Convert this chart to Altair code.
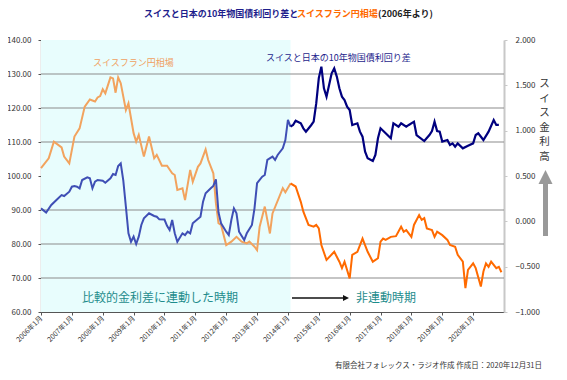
import altair as alt
import pandas as pd

# ---------------- data ----------------
fx_months = ["2006-01","2006-04","2006-06","2006-09","2006-10","2006-12","2007-02","2007-04","2007-06","2007-08",
             "2007-10","2007-11","2007-12","2008-01","2008-02","2008-04","2008-05","2008-06","2008-07","2008-08",
             "2008-10","2008-11","2009-01","2009-02","2009-03","2009-05","2009-07","2009-09","2009-10","2009-12",
             "2010-02","2010-04","2010-05","2010-06","2010-08","2010-09","2010-11","2010-12","2011-02","2011-03",
             "2011-05","2011-06","2011-08","2011-09","2011-10","2011-11","2012-01","2012-03","2012-05","2012-07",
             "2012-09","2012-10","2012-12","2013-01","2013-02","2013-04","2013-06","2013-07","2013-11","2013-12",
             "2014-02","2014-04","2014-06","2014-07","2014-09","2014-11","2014-12","2015-01","2015-02","2015-04",
             "2015-07","2015-09","2015-10","2015-11","2016-01","2016-02","2016-04","2016-06","2016-08","2016-10",
             "2016-12","2017-01","2017-02","2017-03","2017-05","2017-07","2017-09","2017-10","2017-11","2018-01",
             "2018-02","2018-04","2018-05","2018-06","2018-07","2018-09","2018-10","2018-11","2019-01","2019-03",
             "2019-04","2019-06","2019-07","2019-09","2019-10","2019-11","2020-01","2020-02","2020-04","2020-05",
             "2020-06","2020-07","2020-08","2020-10","2020-11","2020-12"]
fx_values = [102.3,105.2,110.1,108.4,105.7,103.7,111.6,114.0,120.4,122.5,
             121.9,123.1,123.5,125.5,124.3,129.0,128.7,124.5,129.0,127.3,
             119.4,121.4,112.6,110.1,112.1,105.7,111.6,105.2,106.2,103.0,
             103.0,100.8,100.3,95.9,96.4,92.9,101.8,98.3,102.7,103.7,
             107.8,104.7,100.8,92.0,86.1,85.6,79.7,80.7,82.1,80.7,
             80.2,80.7,79.2,78.2,85.1,91.0,83.1,89.0,96.4,95.2,
             97.8,96.9,92.4,89.5,85.6,85.1,85.6,84.6,79.7,75.3,
             77.7,74.8,72.9,74.8,69.9,76.8,77.7,81.6,77.7,74.8,
             75.8,80.7,81.6,81.2,82.1,82.3,85.1,83.6,84.1,82.1,
             85.6,88.5,87.1,87.6,84.6,84.1,82.1,83.6,82.6,81.2,
             79.7,79.2,76.8,74.8,67.0,72.4,74.3,72.9,67.5,71.9,
             74.3,73.3,74.8,72.9,73.3,71.7]

spread_months = ["2006-01","2006-03","2006-05","2006-07","2006-09","2006-10","2006-12","2007-01","2007-02","2007-03",
                 "2007-04","2007-05","2007-07","2007-08","2007-09","2007-10","2007-11","2008-01","2008-02","2008-04",
                 "2008-05","2008-06","2008-07","2008-08","2008-09","2008-10","2008-11","2008-12","2009-01","2009-02",
                 "2009-03","2009-04","2009-05","2009-07","2009-09","2009-10","2009-11","2010-01","2010-02","2010-03",
                 "2010-04","2010-05","2010-06","2010-08","2010-09","2010-10","2010-11","2010-12","2011-03","2011-04",
                 "2011-05","2011-07","2011-08","2011-09","2011-10","2011-11","2012-01","2012-02","2012-03","2012-04",
                 "2012-05","2012-06","2012-08","2012-09","2012-11","2012-12","2013-01","2013-03","2013-04","2013-05",
                 "2013-07","2013-08","2013-09","2013-11","2013-12","2014-01","2014-02","2014-03","2014-04","2014-06",
                 "2014-07","2014-08","2014-10","2014-11","2014-12","2015-01","2015-02","2015-03","2015-04","2015-05",
                 "2015-06","2015-07","2015-08","2015-09","2015-10","2015-11","2015-12","2016-01","2016-02","2016-04",
                 "2016-05","2016-06","2016-07","2016-08","2016-10","2016-11","2016-12","2017-01","2017-03","2017-05",
                 "2017-06","2017-08","2017-09","2017-11","2017-12","2018-02","2018-03","2018-06","2018-08","2018-09",
                 "2018-10","2018-11","2018-12","2019-01","2019-03","2019-04","2019-05","2019-06","2019-07","2019-09",
                 "2019-11","2020-01","2020-02","2020-03","2020-05","2020-07","2020-09","2020-10","2020-11"]
spread_values = [0.143,0.096,0.180,0.235,0.290,0.279,0.327,0.382,0.390,0.382,
                 0.364,0.456,0.485,0.474,0.364,0.437,0.456,0.448,0.426,0.474,
                 0.522,0.511,0.610,0.640,0.450,0.162,-0.132,-0.225,-0.169,-0.250,
                 -0.169,-0.040,0.033,0.089,0.059,0.051,0.022,0.020,-0.050,-0.096,
                 0.015,-0.132,-0.225,-0.132,-0.151,-0.114,-0.132,-0.022,0.051,0.217,
                 0.309,0.364,0.390,0.463,0.100,-0.022,-0.114,-0.151,0.015,0.143,
                 0.089,-0.114,-0.206,-0.132,-0.040,0.143,0.420,0.493,0.511,0.677,
                 0.713,0.677,0.732,0.805,0.897,1.118,1.044,1.063,1.110,1.081,
                 1.026,0.989,1.060,1.100,1.300,1.580,1.706,1.467,1.375,1.504,
                 1.632,1.687,1.596,1.467,1.375,1.338,1.265,1.228,1.063,1.081,
                 0.989,0.934,0.768,0.695,0.665,0.732,0.916,1.026,0.971,0.916,
                 1.081,1.044,1.081,1.044,1.063,1.099,0.952,0.886,0.952,0.996,
                 1.099,0.996,0.989,0.879,0.897,0.842,0.860,0.823,0.860,0.805,
                 0.834,0.860,0.952,0.971,0.897,0.989,1.118,1.063,1.063]

year_ticks = list(range(2006, 2021))
left_ticks = [60, 70, 80, 90, 100, 110, 120, 130, 140]
right_ticks = [-1.0, -0.5, 0.0, 0.5, 1.0, 1.5, 2.0]
grid_values = [70, 80, 90, 110, 120, 130]
linked_start = "2006-01"
split_month = "2014-02"


def to_t(m):
    y, mo = m.split("-")
    return int(y) + (int(mo) - 1) / 12.0


split_t = to_t(split_month)
fx = pd.DataFrame({"month": fx_months, "value": fx_values})
fx["t"] = fx["month"].map(to_t)
sp = pd.DataFrame({"month": spread_months, "value": spread_values})
sp["t"] = sp["month"].map(to_t)
fx1 = fx[fx["t"] <= split_t]
fx2 = fx[fx["t"] >= split_t]
sp1 = sp[sp["t"] <= split_t]
sp2 = sp[sp["t"] >= split_t]
band_df = pd.DataFrame({"start": [to_t(linked_start)], "end": [split_t]})
grid_df = pd.DataFrame({"v": grid_values})
dummy = pd.DataFrame({"d": [0]})

FONT = "Noto Sans CJK JP"
W, H = 463, 272

xs = alt.Scale(domain=[2006, 2021], nice=False, zero=False)
xaxis = alt.Axis(values=year_ticks, labelExpr="datum.value + '年1月'", labelAngle=-45,
                 labelAlign="right", labelBaseline="middle", labelFontSize=7, labelFont=FONT,
                 labelColor="#333333", tickSize=3, tickColor="#555555", domainColor="#555555",
                 domainWidth=1.2, labelPadding=2, title=None, grid=False)
ly = alt.Scale(domain=[60, 140], nice=False, zero=False)
laxis = alt.Axis(values=left_ticks, format=".2f", labelFontSize=8, labelFont=FONT,
                 labelColor="#333333", tickSize=3, tickColor="#555555", domainColor="#555555",
                 domainWidth=1.2, labelPadding=7, title=None, grid=False, orient="left")
ry = alt.Scale(domain=[-1, 2], nice=False, zero=False)
raxis = alt.Axis(values=right_ticks, format=".3f", labelFontSize=8, labelFont=FONT,
                 labelColor="#333333", tickSize=3, tickColor="#c8c8c8", domainColor="#c8c8c8",
                 domainWidth=2, labelPadding=8, title=None, grid=False, orient="right")

band = alt.Chart(band_df).mark_rect(color="#E8FDFD").encode(
    x=alt.X("start:Q", scale=xs, axis=xaxis), x2="end:Q",
    y=alt.value(0), y2=alt.value(H))

grid = alt.Chart(grid_df).mark_rule(color="#8c8c8c", strokeWidth=1.2).encode(
    y=alt.Y("v:Q", scale=ly, axis=laxis))

fx_a = alt.Chart(fx1).mark_line(color="#F2A35E", strokeWidth=2).encode(
    x=alt.X("t:Q", scale=xs, axis=xaxis), y=alt.Y("value:Q", scale=ly, axis=laxis))
fx_b = alt.Chart(fx2).mark_line(color="#FF6A00", strokeWidth=2).encode(
    x=alt.X("t:Q", scale=xs, axis=xaxis), y=alt.Y("value:Q", scale=ly, axis=laxis))

sp_a = alt.Chart(sp1).mark_line(color="#3F4FB5", strokeWidth=2).encode(
    x=alt.X("t:Q", scale=xs, axis=xaxis), y=alt.Y("value:Q", scale=ry, axis=raxis))
sp_b = alt.Chart(sp2).mark_line(color="#00007F", strokeWidth=2.2).encode(
    x=alt.X("t:Q", scale=xs, axis=xaxis), y=alt.Y("value:Q", scale=ry, axis=raxis))


def label(text, x, y, size, color, weight="normal", align="left", baseline="middle"):
    return alt.Chart(dummy).mark_text(text=text, font=FONT, fontSize=size, color=color,
                                      fontWeight=weight, align=align, baseline=baseline).encode(
        x=alt.value(x), y=alt.value(y))


t1 = label("スイスと日本の10年物国債利回り差と", 103, -26, 9, "#1E1E8C", "bold")
t2 = label("スイスフラン円相場", 256, -26, 9, "#FF6A00", "bold")
t3 = label("(2006年より)", 337, -26, 9, "#222222", "bold")
l1 = label("スイスフラン円相場", 52, 23, 9, "#F0A060")
l2 = label("スイスと日本の10年物国債利回り差", 225, 18, 9, "#1E1E8C")
l3 = label("比較的金利差に連動した時期", 41, 258, 12, "#1E8C8C")
l4 = label("非連動時期", 315, 258, 12, "#1E8C8C")
foot = label("有限会社フォレックス・ラジオ作成  作成日：2020年12月31日", 501, 326, 7.5, "#333333", align="right")

vert_chars = ["ス", "イ", "ス", "金", "利", "高"]
vert = [label(c, 503.5, 39 + i * 14.6, 10.5, "#333333", align="center", baseline="top")
        for i, c in enumerate(vert_chars)]

arrow_shaft = alt.Chart(dummy).mark_rule(color="#999999", strokeWidth=5).encode(
    x=alt.value(504.5), y=alt.value(143), y2=alt.value(196))
arrow_head = alt.Chart(dummy).mark_point(shape="M-1,1L1,1L0,-1Z", filled=True, size=196,
                                         color="#999999", opacity=1).encode(
    x=alt.value(504.5), y=alt.value(137))

blk_shaft = alt.Chart(dummy).mark_rule(color="#111111", strokeWidth=1.5).encode(
    x=alt.value(251), x2=alt.value(303), y=alt.value(258))
blk_head = alt.Chart(dummy).mark_point(shape="M-1,-1L1,0L-1,1Z", filled=True, size=36,
                                       color="#111111", opacity=1).encode(
    x=alt.value(305), y=alt.value(258))

left = alt.layer(band, grid, fx_a, fx_b, t1, t2, t3, l1, l2, l3, l4, foot, *vert,
                 arrow_shaft, arrow_head, blk_shaft, blk_head)
right = alt.layer(sp_a, sp_b)

chart = alt.layer(left, right).resolve_scale(y="independent").properties(
    width=W, height=H,
    autosize=alt.AutoSizeParams(type="none"),
    padding={"left": 33, "top": 32, "right": 55, "bottom": 60},
    background="white",
).configure_view(stroke=None)

chart.save("out.html", embed_options={"renderer": "svg", "actions": False})
